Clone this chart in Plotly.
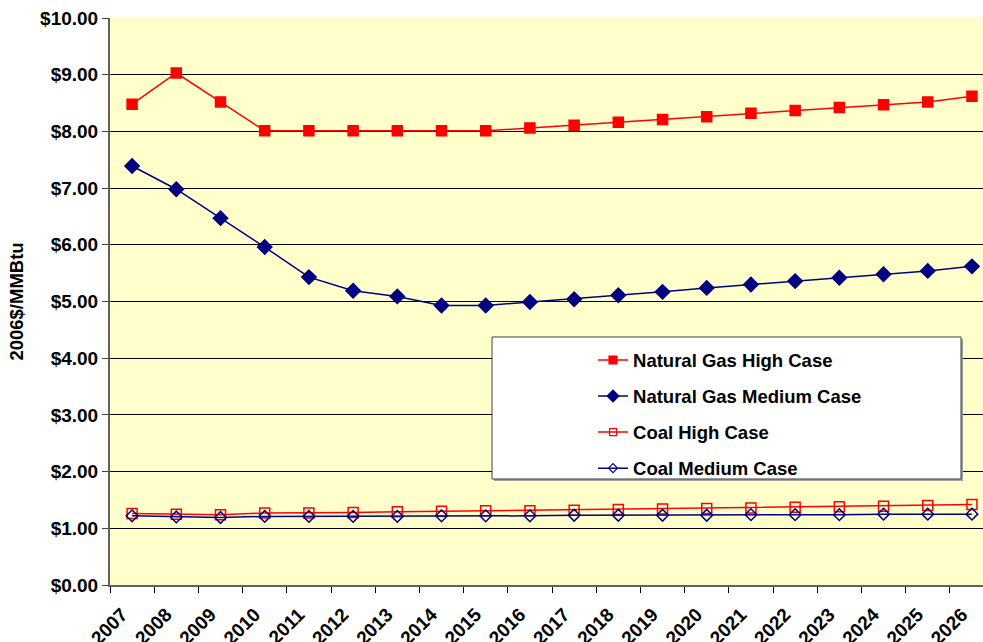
import plotly.graph_objects as go

years = [str(y) for y in range(2007, 2027)]

ng_high = [8.48, 9.03, 8.52, 8.01, 8.01, 8.01, 8.01, 8.01, 8.01, 8.06, 8.11, 8.16,
           8.21, 8.26, 8.32, 8.37, 8.42, 8.47, 8.52, 8.62]
ng_medium = [7.39, 6.98, 6.47, 5.96, 5.43, 5.19, 5.09, 4.93, 4.93, 4.99, 5.04, 5.11,
             5.17, 5.24, 5.30, 5.36, 5.42, 5.48, 5.54, 5.62]
coal_high = [1.26, 1.25, 1.24, 1.27, 1.27, 1.28, 1.29, 1.30, 1.31, 1.31, 1.32, 1.33,
             1.34, 1.35, 1.36, 1.37, 1.38, 1.39, 1.40, 1.42]
coal_medium = [1.22, 1.20, 1.19, 1.21, 1.21, 1.21, 1.21, 1.22, 1.22, 1.22, 1.23, 1.23,
               1.23, 1.23, 1.24, 1.24, 1.24, 1.25, 1.25, 1.25]

y_title = "2006$/MMBtu"
series_names = ["Natural Gas High Case", "Natural Gas Medium Case",
                "Coal High Case", "Coal Medium Case"]

RED = "#FF0000"
NAVY = "#000080"
FONT = "Liberation Sans, Arial, sans-serif"

fig = go.Figure()
specs = [
    (ng_high, RED, "square", 10, 8),
    (ng_medium, NAVY, "diamond", 11, 9),
    (coal_high, RED, "square-open", 10, 7),
    (coal_medium, NAVY, "diamond-open", 9, 7),
]
for i, (vals, col, sym, sz, lsz) in enumerate(specs):
    fig.add_trace(go.Scatter(
        x=years, y=vals, name=series_names[i], mode="lines+markers",
        line=dict(color=col, width=1.5),
        marker=dict(symbol=sym, size=sz, color=col,
                    line=dict(color=col, width=1.5)),
        showlegend=False, legendgroup=f"g{i}",
    ))
    # legend-only entry with the smaller legend marker
    fig.add_trace(go.Scatter(
        x=[None], y=[None], name=series_names[i], mode="lines+markers",
        line=dict(color=col, width=1.5),
        marker=dict(symbol=sym, size=lsz, color=col,
                    line=dict(color=col, width=1.2)),
        showlegend=True, legendgroup=f"g{i}",
    ))

# legend box (with slight shadow)
fig.add_shape(type="rect", xref="paper", yref="paper",
              x0=0.4399, x1=0.9771, y0=0.1835, y1=0.4339,
              fillcolor="#A0A0A0", line=dict(width=0), layer="above")
fig.add_shape(type="rect", xref="paper", yref="paper",
              x0=0.4376, x1=0.9748, y0=0.187, y1=0.4374,
              fillcolor="white", line=dict(color="#404040", width=1), layer="above")
# no gridline at the top edge of the plot area
fig.add_shape(type="line", xref="paper", yref="paper",
              x0=0, x1=1, y0=1, y1=1,
              line=dict(color="#FFFFCC", width=2), layer="above")

fig.update_layout(
    width=983, height=642,
    margin=dict(l=110, r=0, t=18, b=57),
    paper_bgcolor="white",
    plot_bgcolor="#FFFFCC",
    font=dict(family=FONT, size=18, color="black", weight="bold"),
    showlegend=True,
    legend=dict(
        x=0.5533, y=0.4295, xanchor="left", yanchor="top",
        bgcolor="rgba(0,0,0,0)", borderwidth=0,
        font=dict(family=FONT, size=18.5, color="black", weight="bold"),
        traceorder="grouped", tracegroupgap=9,
    ),
    xaxis=dict(
        type="category", range=[-0.5, 19.25], automargin=False,
        tickson="boundaries", ticks="outside", ticklen=6, tickcolor="black",
        tickangle=-45, showgrid=False,
        ticklabelshift=-10, ticklabelstandoff=9,
        showline=True, linecolor="#606060", linewidth=2,
        tickfont=dict(family=FONT, size=19, color="black", weight="bold"),
    ),
    yaxis=dict(
        range=[0, 10], dtick=1, tickprefix="$", tickformat=".2f", automargin=False,
        ticks="outside", ticklen=6, tickcolor="#404040",
        showgrid=True, gridcolor="black", gridwidth=1,
        showline=True, linecolor="#606060", linewidth=2,
        zeroline=False,
        tickfont=dict(family=FONT, size=19, color="black", weight="bold"),
        title=dict(text=y_title, standoff=12,
                   font=dict(family=FONT, size=18.5, color="black", weight="bold")),
    ),
)

fig.write_html("out.html", config={"displayModeBar": False},
               post_script="document.body.style.margin='0';")
